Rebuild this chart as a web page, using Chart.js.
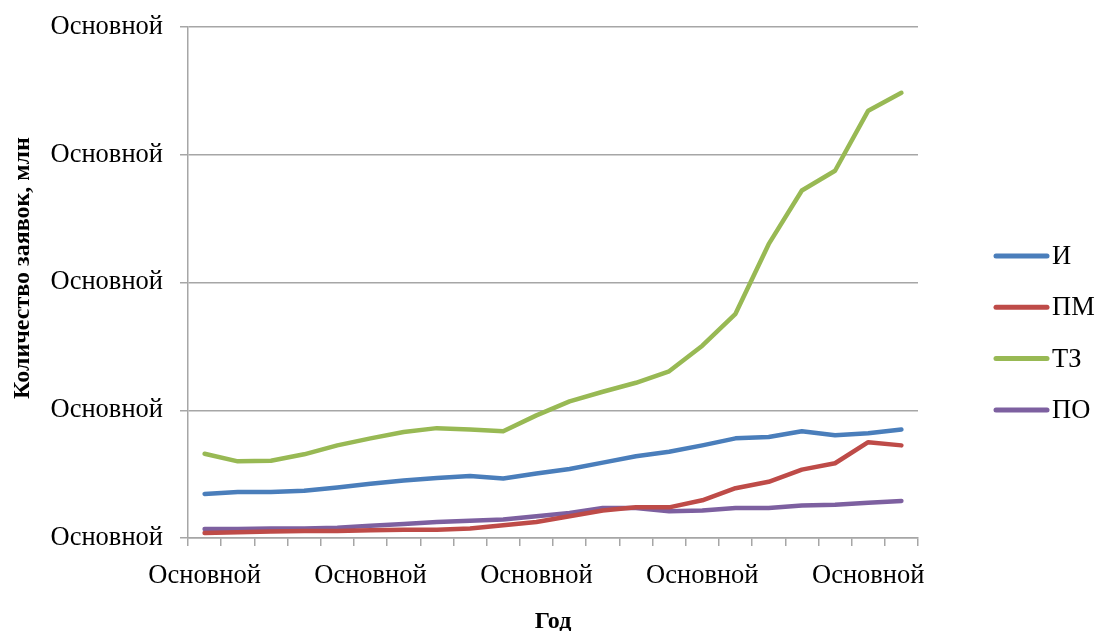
<!DOCTYPE html>
<html>
<head>
<meta charset="utf-8">
<script src="https://cdn.jsdelivr.net/npm/chart.js@4/dist/chart.umd.min.js"></script>
<style>
  html, body { margin: 0; padding: 0; background: #ffffff; }
  #wrap { width: 1097px; height: 631px; }
</style>
</head>
<body>
<div id="wrap"><canvas id="chart" width="1097" height="631"></canvas></div>
<script>
// Category labels (22 years, shown in the "Основной" number format)
const categories = [
  'Основной','Основной','Основной','Основной','Основной','Основной',
  'Основной','Основной','Основной','Основной','Основной','Основной',
  'Основной','Основной','Основной','Основной','Основной','Основной',
  'Основной','Основной','Основной','Основной'
];

// Value-axis tick labels, bottom to top
const yTickLabels = ['Основной','Основной','Основной','Основной','Основной'];

// Applications, millions
const seriesI  = [0.69,0.72,0.72,0.74,0.79,0.85,0.90,0.94,0.97,0.93,1.01,1.08,1.18,1.28,1.35,1.45,1.56,1.58,1.67,1.61,1.64,1.70];
const seriesPM = [0.08,0.09,0.10,0.11,0.11,0.12,0.13,0.13,0.15,0.20,0.25,0.34,0.43,0.48,0.48,0.59,0.78,0.88,1.07,1.17,1.50,1.45];
const seriesTZ = [1.32,1.20,1.21,1.31,1.45,1.56,1.66,1.72,1.70,1.67,1.92,2.14,2.29,2.43,2.61,3.01,3.51,4.60,5.44,5.75,6.69,6.97];
const seriesPO = [0.14,0.14,0.15,0.15,0.16,0.19,0.22,0.25,0.27,0.29,0.34,0.39,0.47,0.47,0.42,0.43,0.47,0.47,0.51,0.52,0.55,0.58];

const seriesNames = ['И', 'ПМ', 'ТЗ', 'ПО'];
const seriesColors = ['#4A7EBB', '#BE4B48', '#98B954', '#7D60A0'];
const seriesData = [seriesI, seriesPM, seriesTZ, seriesPO];

const yTitle = 'Количество заявок, млн';
const xTitle = 'Год';

const serif = "'Liberation Serif', 'Times New Roman', serif";
const axisGray = '#A6A6A6';
const tickFontSize = 26.5;

// Legend to the right of the plot (line sample + name) and the rotated value-axis title
const sideDecor = {
  id: 'sideDecor',
  afterDraw(chart) {
    const ctx = chart.ctx;
    const x0 = 996, x1 = 1047, y0 = 256, step = 51.3;
    ctx.save();
    chart.data.datasets.forEach((ds, i) => {
      const y = y0 + i * step;
      ctx.strokeStyle = ds.borderColor;
      ctx.lineWidth = 5;
      ctx.lineCap = 'round';
      ctx.beginPath();
      ctx.moveTo(x0, y);
      ctx.lineTo(x1, y);
      ctx.stroke();
      ctx.fillStyle = '#000000';
      ctx.font = tickFontSize + 'px ' + serif;
      ctx.textAlign = 'left';
      ctx.textBaseline = 'middle';
      ctx.fillText(ds.label, x1 + 5, y + 1);
    });
    ctx.translate(23, 268);
    ctx.rotate(-Math.PI / 2);
    ctx.fillStyle = '#000000';
    ctx.font = 'bold 24px ' + serif;
    ctx.textAlign = 'center';
    ctx.textBaseline = 'middle';
    ctx.fillText(yTitle, 0, 0);
    ctx.restore();
  }
};

new Chart(document.getElementById('chart'), {
  type: 'line',
  data: {
    labels: categories,
    datasets: seriesData.map((d, i) => ({
      label: seriesNames[i],
      data: d,
      borderColor: seriesColors[i],
      backgroundColor: seriesColors[i],
      borderWidth: 4.5,
      borderCapStyle: 'round',
      borderJoinStyle: 'round',
      pointRadius: 0,
      tension: 0,
      fill: false
    }))
  },
  options: {
    responsive: false,
    animation: false,
    layout: { padding: { left: 0, right: 179, top: 27, bottom: 0 } },
    plugins: {
      legend: { display: false },
      tooltip: { enabled: false }
    },
    scales: {
      x: {
        type: 'category',
        offset: true,
        afterFit(scale) { scale.height = 631 - 538; },
        border: { color: axisGray, width: 1.5 },
        grid: {
          offset: true,
          drawOnChartArea: false,
          drawTicks: true,
          tickLength: 8,
          color: axisGray,
          lineWidth: 1.5
        },
        ticks: {
          autoSkip: false,
          maxRotation: 0,
          minRotation: 0,
          color: '#000000',
          font: { family: serif, size: tickFontSize },
          padding: 14,
          callback: (v, i) => (i % 5 === 0 ? categories[i] : '')
        },
        title: {
          display: true,
          text: xTitle,
          color: '#000000',
          font: { family: serif, size: 24, weight: 'bold', lineHeight: 0.75 },
          padding: { top: 0, bottom: 0 }
        }
      },
      y: {
        min: 0,
        max: 8,
        afterFit(scale) {
          scale.width = 188;
          scale.paddingTop = 0;
          scale.paddingBottom = 0;
        },
        border: { color: axisGray, width: 1.5 },
        grid: {
          color: axisGray,
          lineWidth: 1.5,
          drawTicks: true,
          tickLength: 8
        },
        ticks: {
          stepSize: 2,
          color: '#000000',
          font: { family: serif, size: tickFontSize },
          padding: 17,
          callback: (v, i) => yTickLabels[i]
        }
      }
    }
  },
  plugins: [sideDecor]
});
</script>
</body>
</html>
